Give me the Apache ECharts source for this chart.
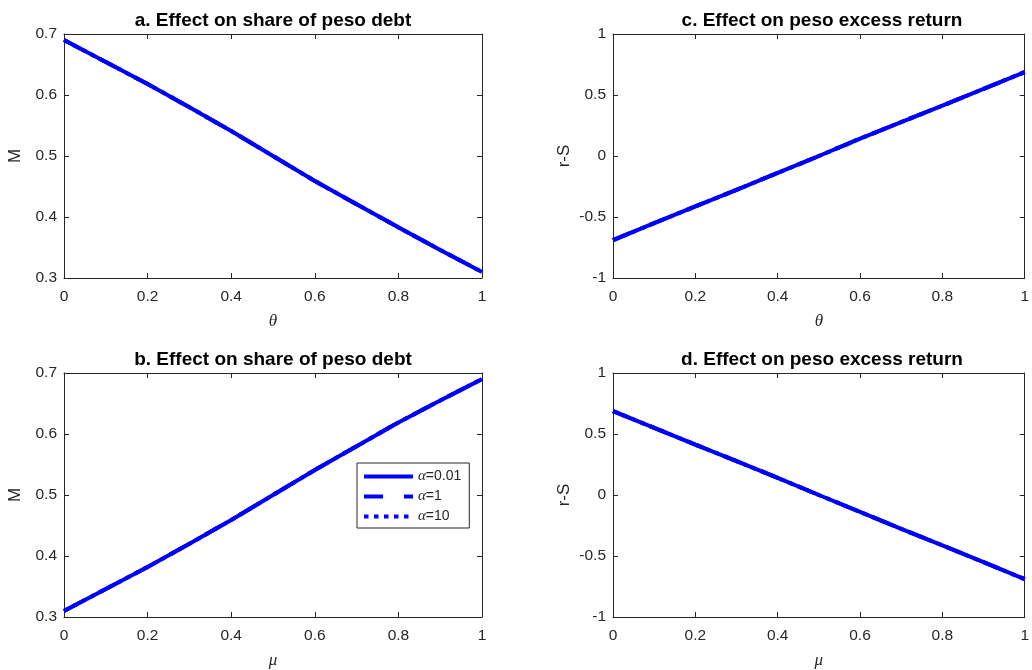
<!DOCTYPE html>
<html>
<head>
<meta charset="utf-8">
<script src="https://cdn.jsdelivr.net/npm/echarts@6/dist/echarts.min.js"></script>
<style>
  html, body { margin: 0; padding: 0; background: #fff; }
  #chart { width: 1032px; height: 670px; }
</style>
</head>
<body>
<div id="chart"></div>
<script>
// Parameter grid shared by every panel (theta or mu)
const paramGrid = [0, 0.1, 0.2, 0.3, 0.4, 0.5, 0.6, 0.7, 0.8, 0.9, 1];

// Legend entries: one curve per alpha
const alphaNames = ['α=0.01', 'α=1', 'α=10'];

// Share of peso debt M as theta rises (panel a)
const shareVsTheta = [0.690, 0.654, 0.618, 0.580, 0.541, 0.500, 0.459, 0.421, 0.383, 0.346, 0.310];
// Share of peso debt M as mu rises (panel b)
const shareVsMu = [0.310, 0.346, 0.382, 0.420, 0.459, 0.500, 0.541, 0.580, 0.619, 0.655, 0.690];
// Peso excess return r-S as theta rises (panel c)
const returnVsTheta = [-0.690, -0.551, -0.413, -0.277, -0.139, 0.000, 0.142, 0.278, 0.413, 0.550, 0.688];
// Peso excess return r-S as mu rises (panel d)
const returnVsMu = [0.688, 0.550, 0.413, 0.278, 0.140, 0.000, -0.139, -0.277, -0.413, -0.551, -0.690];

// Axis ranges and tick steps
const xRange = [0, 1, 0.2];
const shareRange = [0.3, 0.7, 0.1];
const returnRange = [-1, 1, 0.5];

const panels = [
  { title: 'a. Effect on share of peso debt', xName: 'θ', yName: 'M', range: shareRange, values: shareVsTheta, left: 64, top: 34 },
  { title: 'c. Effect on peso excess return', xName: 'θ', yName: 'r-S', range: returnRange, values: returnVsTheta, left: 613, top: 34 },
  { title: 'b. Effect on share of peso debt', xName: 'μ', yName: 'M', range: shareRange, values: shareVsMu, left: 64, top: 373 },
  { title: 'd. Effect on peso excess return', xName: 'μ', yName: 'r-S', range: returnRange, values: returnVsMu, left: 613, top: 373 }
];

const PW = 418, PH = 244;
const axisColor = '#262626';
const sans = 'Liberation Sans, Arial, Helvetica, sans-serif';
const serif = 'Liberation Serif, DejaVu Serif, Times New Roman, serif';
const lineTypes = ['solid', [19, 21], [4.5, 5.5]];

const grids = [], xAxes = [], yAxes = [], series = [], titles = [];

panels.forEach((p, i) => {
  grids.push({ left: p.left, top: p.top, width: PW, height: PH, containLabel: false });
  titles.push({
    text: p.title,
    left: p.left + PW / 2,
    top: p.top - 23,
    textAlign: 'center',
    padding: 0,
    textStyle: { fontFamily: sans, fontSize: 19, fontWeight: 'bold', color: '#000' }
  });
  const tickCommon = { show: true, inside: true, length: 5, lineStyle: { color: axisColor, width: 1 } };
  const lineCommon = { show: true, onZero: false, lineStyle: { color: axisColor, width: 1 } };
  // bottom x axis with labels
  xAxes.push({
    gridIndex: i, type: 'value', position: 'bottom',
    min: xRange[0], max: xRange[1], interval: xRange[2],
    axisLine: lineCommon, axisTick: tickCommon, splitLine: { show: false },
    axisLabel: { color: axisColor, fontFamily: sans, fontSize: 15.5, margin: 11 },
    name: p.xName, nameLocation: 'middle', nameGap: 35,
    nameTextStyle: { fontFamily: serif, fontStyle: 'italic', fontSize: 17, color: axisColor }
  });
  // top x axis closing the box
  xAxes.push({
    gridIndex: i, type: 'value', position: 'top',
    min: xRange[0], max: xRange[1], interval: xRange[2],
    axisLine: lineCommon, axisTick: tickCommon, splitLine: { show: false },
    axisLabel: { show: false }
  });
  // left y axis with labels
  yAxes.push({
    gridIndex: i, type: 'value', position: 'left',
    min: p.range[0], max: p.range[1], interval: p.range[2],
    axisLine: lineCommon, axisTick: tickCommon, splitLine: { show: false },
    axisLabel: { color: axisColor, fontFamily: sans, fontSize: 15.5, margin: 7 },
    name: p.yName, nameLocation: 'middle', nameGap: 40,
    nameTextStyle: { fontFamily: sans, fontSize: 17, color: axisColor }
  });
  // right y axis closing the box
  yAxes.push({
    gridIndex: i, type: 'value', position: 'right',
    min: p.range[0], max: p.range[1], interval: p.range[2],
    axisLine: lineCommon, axisTick: tickCommon, splitLine: { show: false },
    axisLabel: { show: false }
  });
  alphaNames.forEach((name, k) => {
    series.push({
      name: name,
      type: 'line',
      xAxisIndex: i * 2,
      yAxisIndex: i * 2,
      data: paramGrid.map((x, j) => [x, p.values[j]]),
      symbol: 'none',
      showSymbol: false,
      smooth: false,
      silent: true,
      lineStyle: { color: '#0000ff', width: 4, type: lineTypes[k], cap: 'butt' },
      itemStyle: { color: '#0000ff' },
      z: 2 + k
    });
  });
});

const chart = echarts.init(document.getElementById('chart'), null, { renderer: 'canvas' });
chart.setOption({
  animation: false,
  backgroundColor: '#fff',
  title: titles,
  grid: grids,
  xAxis: xAxes,
  yAxis: yAxes,
  legend: {
    data: alphaNames,
    orient: 'vertical',
    left: 357,
    top: 463,
    itemWidth: 49,
    itemHeight: 14,
    itemGap: 5,
    padding: [6, 8, 4, 5],
    borderColor: axisColor,
    borderWidth: 1,
    borderRadius: 0,
    backgroundColor: '#fff',
    selectedMode: false,
    itemStyle: { opacity: 0 },
    lineStyle: { width: 4, cap: 'butt' },
    formatter: (name) => '{g|α}' + name.slice(1),
    textStyle: {
      fontFamily: sans, fontSize: 14, color: axisColor,
      rich: { g: { fontFamily: serif, fontStyle: 'italic', fontSize: 15, color: axisColor } }
    }
  },
  series: series
});
</script>
</body>
</html>
